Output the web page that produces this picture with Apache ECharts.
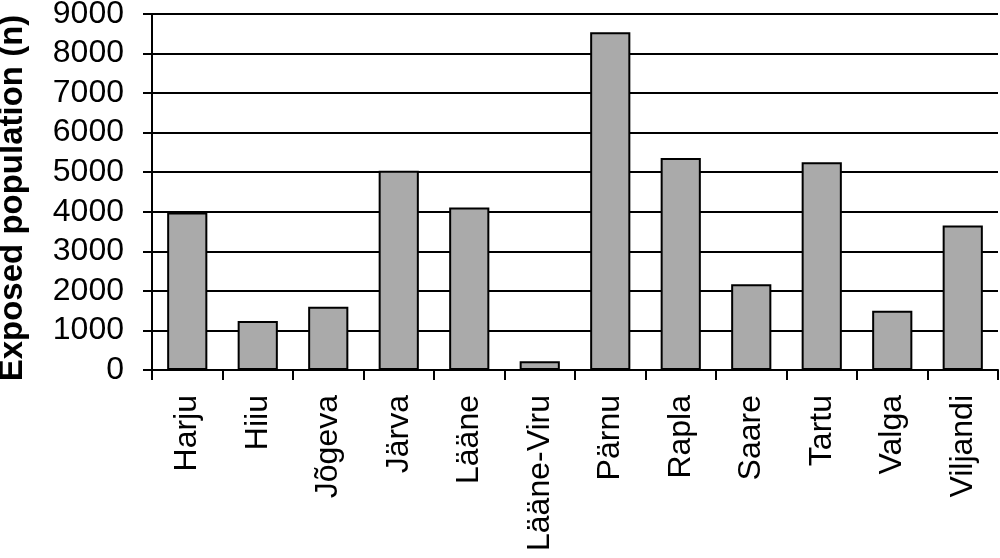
<!DOCTYPE html>
<html><head><meta charset="utf-8">
<script src="https://cdn.jsdelivr.net/npm/echarts@6/dist/echarts.min.js"></script>
<style>html,body{margin:0;padding:0;background:#fff}#c{width:1000px;height:558px}</style>
</head><body><div id="c"></div>
<script>
const categories = ["Harju","Hiiu","Jõgeva","Järva","Lääne","Lääne-Viru","Pärnu","Rapla","Saare","Tartu","Valga","Viljandi"];
const exposed = [3980,1240,1600,5040,4110,220,8540,5360,2170,5250,1500,3650];
const yTicks = {min:0, max:9000, interval:1000};
const yName = "Exposed population (n)";

const FONT = 'Liberation Sans, Arial, sans-serif';
const chart = echarts.init(document.getElementById('c'), null, {renderer:'canvas'});
chart.setOption({
  animation:false,
  grid:{left:152, right:2, top:14, bottom:188, containLabel:false, outerBoundsMode:'none'},
  xAxis:{
    type:'category', data:categories,
    axisLine:{lineStyle:{color:'#000', width:2}},
    axisTick:{show:true, length:10, lineStyle:{color:'#000', width:2}},
    axisLabel:{rotate:90, color:'#000', fontSize:32, fontFamily:FONT, margin:25, interval:0}
  },
  yAxis:{
    type:'value', min:yTicks.min, max:yTicks.max, interval:yTicks.interval,
    name:yName, nameLocation:'middle', nameGap:123, nameRotate:90,
    nameTextStyle:{color:'#000', fontSize:33, fontWeight:'bold', fontFamily:FONT, padding:[0,12,0,0]},
    axisLine:{show:true, lineStyle:{color:'#000', width:2}},
    axisTick:{show:true, inside:false, length:9, lineStyle:{color:'#000', width:2}},
    axisLabel:{color:'#000', fontSize:32, fontFamily:FONT, margin:28, formatter:v=>String(v)},
    splitLine:{show:true, lineStyle:{color:'#000', width:2}}
  },
  series:[{
    type:'bar', data:exposed, barCategoryGap:'43%',
    itemStyle:{color:'#aaaaaa', borderColor:'#000', borderWidth:2}
  }]
});
</script></body></html>
